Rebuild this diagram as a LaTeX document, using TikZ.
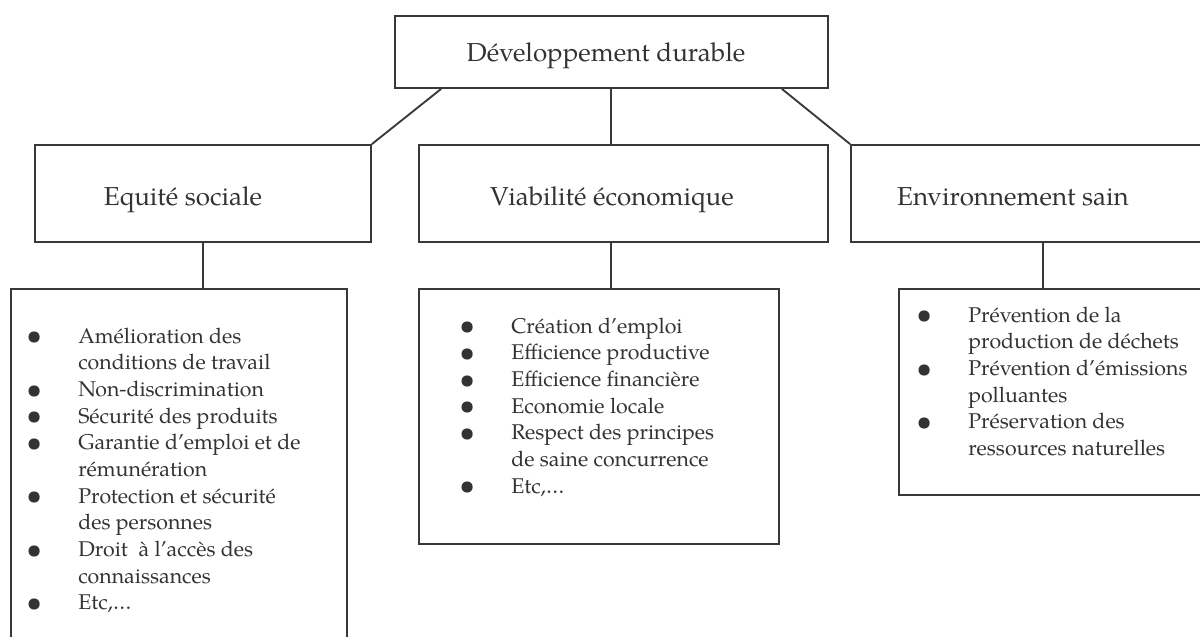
\documentclass[tikz,border=0pt]{standalone}
\usepackage{fontspec}
\setmainfont{texgyrepagella}[Extension=.otf,UprightFont=*-regular,BoldFont=*-bold,ItalicFont=*-italic,BoldItalicFont=*-bolditalic]
\usetikzlibrary{fit}
\definecolor{ink}{HTML}{333333}
\definecolor{rulec}{HTML}{383838}
% bullet hung 33pt to the left of the item text
\newcommand{\bul}{\leavevmode\llap{\makebox[0pt][c]{\raisebox{-1.3pt}{\fontsize{21}{20}\selectfont •}}\hspace{33pt}}}
\begin{document}
\begin{tikzpicture}[x=0.75pt,y=-0.75pt,
  frame/.style={draw=rulec, line width=1.4pt, inner sep=0pt},
  link/.style={draw=rulec, line width=1.4pt},
  headtxt/.style={text=ink, inner sep=0pt, font=\fontsize{19.5}{23}\selectfont, anchor=base},
  listtxt/.style={text=ink, inner sep=0pt, font=\fontsize{16}{20}\selectfont, anchor=base west}]
\clip (0,0) rectangle (1200,636);

% top level
\node[frame, fit={(395,16) (828,88)}] (top) {};
\node[headtxt] (topl) at (606,61) {Développement durable};

% three pillars
\node[frame, fit={(35,145) (371,242)}] (eq) {};
\node[frame, fit={(419,145) (828,242)}] (via) {};
\node[frame, fit={(851,145) (1235,242)}] (env) {};
\node[headtxt] (eql) at (183,205) {Equité sociale};
\node[headtxt] (vial) at (612,205) {Viabilité économique};
\node[headtxt] (envl) at (1013,205) {Environnement sain};

% links from the top box
\coordinate (midx) at (611,0);
\draw[link] ([xshift=35.25pt]top.south west) -- (eq.north east);
\draw[link] (midx |- top.south) -- (midx |- via.north);
\draw[link] ([xshift=-35.25pt]top.south east) -- (env.north west);

% detail boxes
\node[inner sep=0pt, fit={(11,289) (347,645)}] (leq) {};
\draw[link] (leq.south west) -- (leq.north west) -- (leq.north east) -- (leq.south east);
\node[frame, fit={(419,289) (779,544)}] (lvia) {};
\node[frame, fit={(899,289) (1235,495)}] (lenv) {};

% links down to the detail boxes
\coordinate (envx) at (1043,0);
\draw[link] (eq.south) -- (eq.south |- leq.north);
\draw[link] (midx |- via.south) -- (midx |- lvia.north);
\draw[link] (envx |- env.south) -- (envx |- lenv.north);

% item lists
\node[listtxt] (leqt) at (78,343) {\parbox[t]{265pt}{%
\bul Amélioration des\\
conditions de travail\\
\bul Non-discrimination\\
\bul Sécurité des produits\\
\bul Garantie d’emploi et de\\
rémunération\\
\bul Protection et sécurité\\
des personnes\\
\bul Droit~ à l’accès des\\
connaissances\\
\bul Etc,…}};

\node[listtxt] (lviat) at (511,333) {\parbox[t]{265pt}{%
\bul Création d’emploi\\
\bul Efficience productive\\
\bul Efficience financière\\
\bul Economie locale\\
\bul Respect des principes\\
de saine concurrence\\
\bul Etc,…}};

\node[listtxt] (lenvt) at (968,322) {\parbox[t]{265pt}{%
\bul Prévention de la\\
production de déchets\\
\bul Prévention d’émissions\\
polluantes\\
\bul Préservation des\\
ressources naturelles}};
\end{tikzpicture}
\end{document}
